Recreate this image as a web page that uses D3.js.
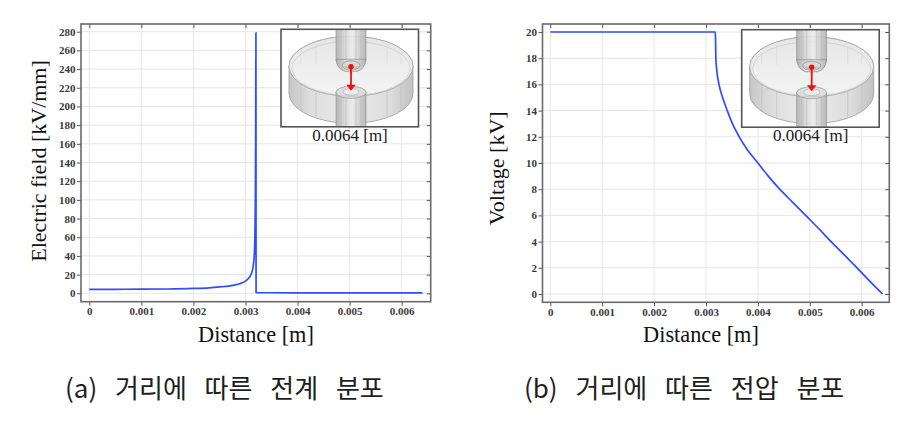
<!DOCTYPE html>
<html><head><meta charset="utf-8">
<script src="https://cdn.jsdelivr.net/npm/d3@7"></script>
<style>body{margin:0;background:#fff} svg{display:block}</style>
</head><body>
<svg id="c" width="920" height="426"></svg>
<script>
// ---------- data ----------
const distanceTicks = [0, 0.001, 0.002, 0.003, 0.004, 0.005, 0.006];
const fieldTicks = [0, 20, 40, 60, 80, 100, 120, 140, 160, 180, 200, 220, 240, 260, 280];
const voltageTicks = [0, 2, 4, 6, 8, 10, 12, 14, 16, 18, 20];

const fieldDistance = [0, 0.0005, 0.001, 0.0015, 0.002, 0.0023, 0.0025, 0.0027, 0.0028, 0.0029, 0.003, 0.00305, 0.0031, 0.00313, 0.00315, 0.00317, 0.00318, 0.00319, 0.003195, 0.0032, 0.003203, 0.0035, 0.004, 0.005, 0.006, 0.0064];
const fieldValues   = [4.2, 4.3, 4.4, 4.6, 5.2, 5.9, 6.8, 8.0, 9.0, 10.5, 13, 15.5, 19.5, 24, 30, 42, 60, 110, 170, 279, 0.8, 0.6, 0.5, 0.4, 0.4, 0.4];

const voltageDistance = [0, 0.00318, 0.003185, 0.00319, 0.00321, 0.00325, 0.00332, 0.00341, 0.00351, 0.00364, 0.0038, 0.004, 0.0042, 0.00442, 0.00467, 0.00492, 0.00517, 0.00541, 0.00566, 0.00591, 0.00615, 0.0064];
const voltageValues   = [20, 20, 19.2, 18, 17, 16, 15, 14, 13, 12, 11, 10, 9, 8, 7, 6, 5, 4, 3, 2, 1, 0];

const xTitle = "Distance [m]";
const fieldTitle = "Electric field [kV/mm]";
const voltageTitle = "Voltage [kV]";
const insetLabel = "0.0064 [m]";
const captionA = "(a) 거리에 따른 전계 분포";
const captionB = "(b) 거리에 따른 전압 분포";

// ---------- layout ----------
const svg = d3.select("#c");
const serif = "'Liberation Serif','Times New Roman',serif";
const sans = "'Noto Sans CJK KR','Noto Sans',sans-serif";

const defs = svg.append("defs");
function grad(id, stops, vertical) {
  const g = defs.append("linearGradient").attr("id", id)
    .attr("x1", 0).attr("y1", 0).attr("x2", vertical ? 0 : 1).attr("y2", vertical ? 1 : 0);
  stops.forEach(s => g.append("stop").attr("offset", s[0]).attr("stop-color", s[1]));
}
grad("sideGrad", [["0%", "#c6c6c6"], ["18%", "#dedede"], ["50%", "#ebebeb"], ["82%", "#dcdcdc"], ["100%", "#c2c2c2"]]);
grad("rodGrad", [["0%", "#b0b0b0"], ["30%", "#d8d8d8"], ["55%", "#ececec"], ["100%", "#b2b2b2"]]);
grad("topGrad", [["0%", "#e6e6e6"], ["100%", "#f4f4f4"]], true);

function drawInset(x0, y0, idx) {
  const w = 137.5, h = 97.5;
  const g = svg.append("g").attr("transform", `translate(${x0},${y0})`);
  g.append("rect").attr("width", w).attr("height", h).attr("fill", "#fff");
  const cid = "clip" + idx;
  defs.append("clipPath").attr("id", cid).append("rect").attr("width", w).attr("height", h);
  const c = g.append("g").attr("clip-path", `url(#${cid})`);
  const cx = 70, tc = 37, rx = 62, ry = 30, sh = 27;
  c.append("path")
    .attr("d", `M${cx - rx},${tc} L${cx - rx},${tc + sh} A${rx},${ry} 0 0 0 ${cx + rx},${tc + sh} L${cx + rx},${tc} A${rx},${ry} 0 0 0 ${cx - rx},${tc} Z`)
    .attr("fill", "url(#sideGrad)").attr("stroke", "#9c9c9c").attr("stroke-width", 0.8);
  c.append("ellipse").attr("cx", cx).attr("cy", tc).attr("rx", rx).attr("ry", ry)
    .attr("fill", "url(#topGrad)").attr("stroke", "#a4a4a4").attr("stroke-width", 0.8);
  c.append("ellipse").attr("cx", cx).attr("cy", tc + 2).attr("rx", rx - 3).attr("ry", ry - 3)
    .attr("fill", "none").attr("stroke", "#c4c4c4").attr("stroke-width", 0.6);
  [-50, -35, 36, 50].forEach(dx => {
    const yy = tc + ry * Math.sqrt(1 - (dx / rx) * (dx / rx));
    c.append("line").attr("x1", cx + dx).attr("x2", cx + dx).attr("y1", yy).attr("y2", yy + sh)
      .attr("stroke", "#bdbdbd").attr("stroke-width", 0.6);
    c.append("line").attr("x1", cx + dx).attr("x2", cx + dx).attr("y1", tc - ry * Math.sqrt(1 - (dx / rx) * (dx / rx)) + 3).attr("y2", tc - 2)
      .attr("stroke", "#d0d0d0").attr("stroke-width", 0.5);
  });
  c.append("rect").attr("x", 55).attr("y", -1).attr("width", 30).attr("height", 32)
    .attr("fill", "url(#rodGrad)").attr("stroke", "#8d8d8d").attr("stroke-width", 0.7).attr("opacity", 0.9);
  [60, 65, 75, 80].forEach(lx => c.append("line").attr("x1", lx).attr("x2", lx).attr("y1", 0).attr("y2", 30)
    .attr("stroke", "#b5b5b5").attr("stroke-width", 0.5));
  c.append("path").attr("d", "M55,30 Q56,40 64,42 L76,42 Q84,40 85,30 Z")
    .attr("fill", "url(#rodGrad)").attr("stroke", "#8d8d8d").attr("stroke-width", 0.7);
  c.append("ellipse").attr("cx", 70).attr("cy", 36).attr("rx", 9).attr("ry", 4.5)
    .attr("fill", "#d9d9d9").attr("stroke", "#8a8a8a").attr("stroke-width", 0.7);
  c.append("path").attr("d", "M62,37 Q68,40 70,46 Q72,40 78,37 Z").attr("fill", "#bfbfbf");
  c.append("rect").attr("x", 55).attr("y", 63).attr("width", 30).attr("height", 40)
    .attr("fill", "url(#rodGrad)").attr("stroke", "#8d8d8d").attr("stroke-width", 0.7).attr("opacity", 0.9);
  [60, 65, 75, 80].forEach(lx => c.append("line").attr("x1", lx).attr("x2", lx).attr("y1", 66).attr("y2", 98)
    .attr("stroke", "#b5b5b5").attr("stroke-width", 0.5));
  c.append("ellipse").attr("cx", 70).attr("cy", 63).attr("rx", 15).attr("ry", 6)
    .attr("fill", "#dedede").attr("stroke", "#959595").attr("stroke-width", 0.7);
  c.append("ellipse").attr("cx", 70).attr("cy", 62.5).attr("rx", 8).attr("ry", 3.4)
    .attr("fill", "#ececec").attr("stroke", "#a8a8a8").attr("stroke-width", 0.6);
  c.append("path").attr("d", `M${cx - rx},${tc} A${rx},${ry} 0 0 0 ${cx + rx},${tc}`)
    .attr("fill", "none").attr("stroke", "#b0b0b0").attr("stroke-width", 0.6).attr("opacity", 0.7);
  c.append("line").attr("x1", 70).attr("x2", 70).attr("y1", 37.5).attr("y2", 57)
    .attr("stroke", "#f01010").attr("stroke-width", 1.8);
  c.append("path").attr("d", "M65.3,55.5 L74.7,55.5 L70,61.5 Z").attr("fill", "#f01010");
  c.append("circle").attr("cx", 70).attr("cy", 37.5).attr("r", 2.7).attr("fill", "#f01010");
  g.append("rect").attr("width", w).attr("height", h).attr("fill", "none")
    .attr("stroke", "#555").attr("stroke-width", 1.6);
  g.append("text").attr("x", 69).attr("y", 111.8).attr("text-anchor", "middle")
    .attr("font-family", serif).attr("font-size", 17).attr("fill", "#1a1a1a").text(insetLabel);
}

function drawPanel(p) {
  const x = d3.scaleLinear().domain([0, 0.006]).range(p.xRange);
  const y = d3.scaleLinear().domain([0, p.yMax]).range(p.yRange);
  const f = p.frame;
  const g = svg.append("g");
  g.append("g").selectAll("line").data(distanceTicks).join("line")
    .attr("x1", d => x(d)).attr("x2", d => x(d)).attr("y1", f.y0).attr("y2", f.y1)
    .attr("stroke", "#e6e6e6").attr("stroke-width", 1);
  g.append("g").selectAll("line").data(p.yTicks).join("line")
    .attr("y1", d => y(d)).attr("y2", d => y(d)).attr("x1", f.x0).attr("x2", f.x1)
    .attr("stroke", "#e6e6e6").attr("stroke-width", 1);
  const fmt = d => d === 0 ? "0" : d3.format(".3f")(d);
  const styleAxis = (a) => {
    a.select(".domain").remove();
    a.selectAll("line").attr("stroke", "#555").attr("stroke-width", 1);
    a.selectAll("text").attr("font-family", serif).attr("font-size", 11).attr("font-weight", "bold").attr("fill", "#3a3a3a");
  };
  g.append("g").attr("transform", `translate(0,${f.y1})`)
    .call(d3.axisBottom(x).tickValues(distanceTicks).tickFormat(fmt).tickSize(4).tickPadding(2)).call(styleAxis);
  g.append("g").attr("transform", `translate(0,${f.y0})`)
    .call(d3.axisTop(x).tickValues(distanceTicks).tickFormat("").tickSize(-4)).call(styleAxis);
  g.append("g").attr("transform", `translate(${f.x0},0)`)
    .call(d3.axisLeft(y).tickValues(p.yTicks).tickSize(4).tickPadding(1.5)).call(styleAxis);
  g.append("g").attr("transform", `translate(${f.x1},0)`)
    .call(d3.axisRight(y).tickValues(p.yTicks).tickFormat("").tickSize(-4)).call(styleAxis);
  g.append("rect").attr("x", f.x0).attr("y", f.y0).attr("width", f.x1 - f.x0).attr("height", f.y1 - f.y0)
    .attr("fill", "none").attr("stroke", "#6a6a6a").attr("stroke-width", 1.6);
  const pts = p.xs.map((d, i) => [d, p.ys[i]]);
  g.append("path").datum(pts)
    .attr("d", d3.line().x(d => x(d[0])).y(d => y(d[1])).curve(d3.curveMonotoneX))
    .attr("fill", "none").attr("stroke", "#2f4dff").attr("stroke-width", 1.7).attr("stroke-linejoin", "round");
  g.append("text").attr("x", p.xTitleX).attr("y", 342).attr("text-anchor", "middle")
    .attr("font-family", serif).attr("font-size", 22.3).attr("fill", "#111").text(xTitle);
  g.append("text").attr("transform", `translate(${p.yTitleX},${p.yTitleY}) rotate(-90)`).attr("text-anchor", "middle")
    .attr("font-family", serif).attr("font-size", 22).attr("fill", "#111").text(p.yTitle);
  drawInset(p.inset[0], p.inset[1], p.id);
  svg.append("text").attr("x", p.capX).attr("y", 398).attr("font-family", sans).attr("font-size", 26)
    .attr("fill", "#1e1e1e").attr("word-spacing", 12).text(p.caption);
}

drawPanel({
  id: "a", frame: { x0: 81, y0: 24, x1: 430.7, y1: 301.7 },
  xRange: [89.3, 401.7], yRange: [293.3, 31.7], yMax: 280, yTicks: fieldTicks,
  xs: fieldDistance, ys: fieldValues, yTitle: fieldTitle,
  xTitleX: 256, yTitleX: 46, yTitleY: 161, inset: [281, 29.3], caption: captionA, capX: 65
});
drawPanel({
  id: "b", frame: { x0: 542.5, y0: 24, x1: 889.3, y1: 302.3 },
  xRange: [550.3, 861.7], yRange: [294, 32], yMax: 20, yTicks: voltageTicks,
  xs: voltageDistance, ys: voltageValues, yTitle: voltageTitle,
  xTitleX: 701, yTitleX: 504, yTitleY: 168.3, inset: [741.7, 29.7], caption: captionB, capX: 524
});
</script>
</body></html>
